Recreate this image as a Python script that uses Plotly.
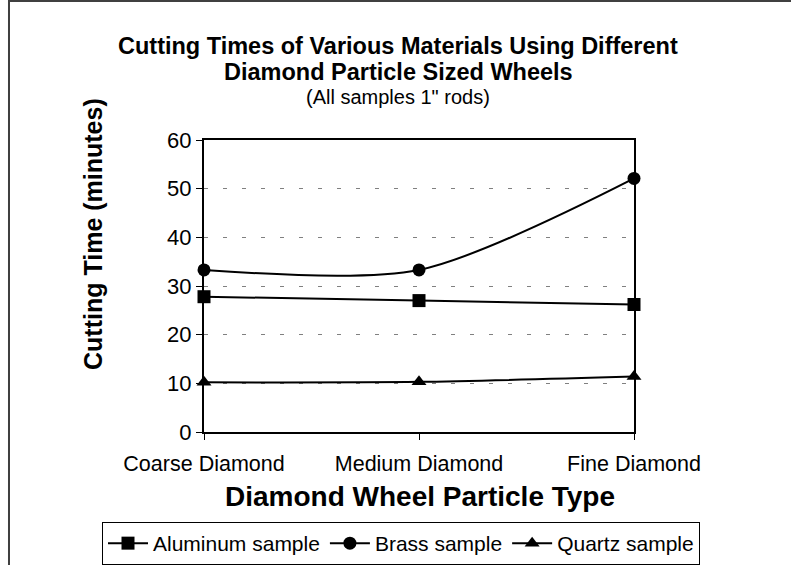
import plotly.graph_objects as go

categories = ["Coarse Diamond", "Medium Diamond", "Fine Diamond"]
aluminum = [27.8, 27.0, 26.2]
brass = [33.3, 33.3, 52.1]
quartz = [10.2, 10.3, 11.4]
y_ticks = [0, 10, 20, 30, 40, 50, 60]

FONT = "Arial, Liberation Sans, sans-serif"

L, R, T, B = 204, 157, 140, 133
W, H = 791, 565
PW, PH = W - L - R, H - T - B

def px(x):
    return (x - L) / PW

def py(y):
    return (H - B - y) / PH

fig = go.Figure()
series = [("Aluminum sample", aluminum, "square"),
          ("Brass sample", brass, "circle"),
          ("Quartz sample", quartz, "triangle-up")]
for name, vals, sym in series:
    fig.add_trace(go.Scatter(
        x=categories, y=vals, name=name, mode="lines+markers",
        line=dict(color="black", width=2, shape="spline", smoothing=0.8),
        marker=dict(symbol=sym, size=13, color="black"),
        cliponaxis=False,
    ))

def ann(text, x, y, size, angle=0):
    return dict(text=text, x=px(x), y=py(y), xref="paper", yref="paper",
                xanchor="center", yanchor="middle", showarrow=False,
                textangle=angle, font=dict(size=size))

frame_path = "M {:.4f},{:.4f} L {:.4f},{:.4f} L {:.4f},{:.4f}".format(
    px(9), py(600), px(9), py(1), px(830), py(1))

fig.update_layout(
    width=W, height=H,
    margin=dict(l=L, r=R, t=T, b=B, autoexpand=False),
    paper_bgcolor="white", plot_bgcolor="white",
    font=dict(family=FONT, color="black", size=21),
    showlegend=True,
    legend=dict(orientation="h", x=px(102), xanchor="left", y=py(522), yanchor="top",
                bordercolor="black", borderwidth=1, font=dict(size=21),
                itemwidth=40, tracegroupgap=0),
    xaxis=dict(
        type="category", range=[0, 2], showline=True, linecolor="black", linewidth=2,
        mirror=True, ticks="outside", ticklen=6, tickcolor="black", tickwidth=1,
        showgrid=False, zeroline=False, tickfont=dict(size=21.5), automargin=False,
        ticklabelstandoff=5,
    ),
    yaxis=dict(
        range=[0, 60], tickvals=y_ticks, showline=True, linecolor="black", linewidth=2,
        mirror=True, ticks="outside", ticklen=6, tickcolor="black", tickwidth=1,
        showgrid=True, gridcolor="#808080", gridwidth=1, griddash="4px,15px",
        zeroline=False, tickfont=dict(size=22), automargin=False, ticklabelstandoff=0,
    ),
    annotations=[
        ann("<b>Cutting Times of Various Materials Using Different</b>", 398, 46, 23.5),
        ann("<b>Diamond Particle Sized Wheels</b>", 398, 72, 23.5),
        ann("(All samples 1\" rods)", 398, 97, 20),
        ann("<b>Cutting Time (minutes)</b>", 93, 234, 25, -90),
        ann("<b>Diamond Wheel Particle Type</b>", 420, 497, 28),
    ],
    shapes=[
        dict(type="path", xref="paper", yref="paper", path=frame_path,
             line=dict(color="#404040", width=2), layer="below"),
    ],
)

fig.write_html("out.html", config={"displayModeBar": False},
               post_script="document.body.style.margin='0px';document.body.style.overflow='hidden';")
